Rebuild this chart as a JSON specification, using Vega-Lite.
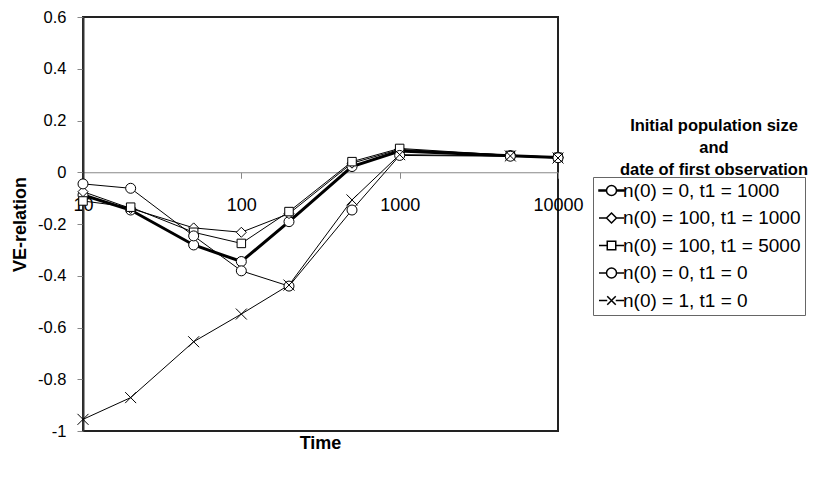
{
  "$schema": "https://vega.github.io/schema/vega-lite/v6.json",
  "width": 475,
  "height": 414,
  "padding": {"left": 11, "top": 9, "right": 0, "bottom": 0},
  "config": {
    "font": "Liberation Sans",
    "view": {"stroke": "#222", "strokeWidth": 2},
    "axis": {"grid": false, "labelColor": "black", "titleColor": "black"}
  },
  "title": {
    "text": "Time",
    "orient": "bottom",
    "anchor": "middle",
    "frame": "group",
    "fontSize": 18,
    "fontWeight": "bold",
    "color": "black",
    "offset": -5
  },
  "data": {
    "values": [
      {"t": 10, "v": -0.088, "s": "n(0) = 0, t1 = 1000"},
      {"t": 20, "v": -0.146, "s": "n(0) = 0, t1 = 1000"},
      {"t": 50, "v": -0.281, "s": "n(0) = 0, t1 = 1000"},
      {"t": 100, "v": -0.345, "s": "n(0) = 0, t1 = 1000"},
      {"t": 200, "v": -0.191, "s": "n(0) = 0, t1 = 1000"},
      {"t": 500, "v": 0.022, "s": "n(0) = 0, t1 = 1000"},
      {"t": 1000, "v": 0.082, "s": "n(0) = 0, t1 = 1000"},
      {"t": 5000, "v": 0.064, "s": "n(0) = 0, t1 = 1000"},
      {"t": 10000, "v": 0.057, "s": "n(0) = 0, t1 = 1000"},
      {"t": 10, "v": -0.075, "s": "n(0) = 100, t1 = 1000"},
      {"t": 20, "v": -0.14, "s": "n(0) = 100, t1 = 1000"},
      {"t": 50, "v": -0.215, "s": "n(0) = 100, t1 = 1000"},
      {"t": 100, "v": -0.232, "s": "n(0) = 100, t1 = 1000"},
      {"t": 200, "v": -0.16, "s": "n(0) = 100, t1 = 1000"},
      {"t": 500, "v": 0.035, "s": "n(0) = 100, t1 = 1000"},
      {"t": 1000, "v": 0.088, "s": "n(0) = 100, t1 = 1000"},
      {"t": 5000, "v": 0.066, "s": "n(0) = 100, t1 = 1000"},
      {"t": 10000, "v": 0.058, "s": "n(0) = 100, t1 = 1000"},
      {"t": 10, "v": -0.111, "s": "n(0) = 100, t1 = 5000"},
      {"t": 20, "v": -0.135, "s": "n(0) = 100, t1 = 5000"},
      {"t": 50, "v": -0.232, "s": "n(0) = 100, t1 = 5000"},
      {"t": 100, "v": -0.275, "s": "n(0) = 100, t1 = 5000"},
      {"t": 200, "v": -0.152, "s": "n(0) = 100, t1 = 5000"},
      {"t": 500, "v": 0.041, "s": "n(0) = 100, t1 = 5000"},
      {"t": 1000, "v": 0.092, "s": "n(0) = 100, t1 = 5000"},
      {"t": 5000, "v": 0.065, "s": "n(0) = 100, t1 = 5000"},
      {"t": 10000, "v": 0.058, "s": "n(0) = 100, t1 = 5000"},
      {"t": 10, "v": -0.045, "s": "n(0) = 0, t1 = 0"},
      {"t": 20, "v": -0.062, "s": "n(0) = 0, t1 = 0"},
      {"t": 50, "v": -0.246, "s": "n(0) = 0, t1 = 0"},
      {"t": 100, "v": -0.381, "s": "n(0) = 0, t1 = 0"},
      {"t": 200, "v": -0.44, "s": "n(0) = 0, t1 = 0"},
      {"t": 500, "v": -0.146, "s": "n(0) = 0, t1 = 0"},
      {"t": 1000, "v": 0.065, "s": "n(0) = 0, t1 = 0"},
      {"t": 5000, "v": 0.062, "s": "n(0) = 0, t1 = 0"},
      {"t": 10000, "v": 0.056, "s": "n(0) = 0, t1 = 0"},
      {"t": 10, "v": -0.955, "s": "n(0) = 1, t1 = 0"},
      {"t": 20, "v": -0.871, "s": "n(0) = 1, t1 = 0"},
      {"t": 50, "v": -0.655, "s": "n(0) = 1, t1 = 0"},
      {"t": 100, "v": -0.548, "s": "n(0) = 1, t1 = 0"},
      {"t": 200, "v": -0.436, "s": "n(0) = 1, t1 = 0"},
      {"t": 500, "v": -0.107, "s": "n(0) = 1, t1 = 0"},
      {"t": 1000, "v": 0.068, "s": "n(0) = 1, t1 = 0"},
      {"t": 5000, "v": 0.063, "s": "n(0) = 1, t1 = 0"},
      {"t": 10000, "v": 0.055, "s": "n(0) = 1, t1 = 0"}
    ]
  },
  "encoding": {
    "x": {
      "field": "t",
      "type": "quantitative",
      "scale": {"type": "log", "domain": [10, 10000]},
      "axis": {
        "title": null,
        "values": [10, 100, 1000, 10000],
        "format": "d",
        "offset": -258.75,
        "domainColor": "#888",
        "domainWidth": 1,
        "tickColor": "#888",
        "tickSize": 6,
        "labelFontSize": 18,
        "labelPadding": 18,
        "labelFlush": false,
        "labelOverlap": false
      }
    },
    "y": {
      "field": "v",
      "type": "quantitative",
      "scale": {"domain": [-1, 0.6], "nice": false, "zero": false},
      "axis": {
        "title": "VE-relation",
        "values": [-1, -0.8, -0.6, -0.4, -0.2, 0, 0.2, 0.4, 0.6],
        "format": ".1~f",
        "labelExpr": "replace(datum.label, '\u2212', '-')",
        "domainColor": "#333",
        "domainWidth": 2,
        "tickColor": "#888",
        "tickSize": 6,
        "labelFontSize": 16.5,
        "labelPadding": 11,
        "titleFontSize": 18,
        "titleFontWeight": "bold",
        "titlePadding": 8
      }
    }
  },
  "resolve": {
    "scale": {"shape": "independent"},
    "legend": {"shape": "independent"}
  },
  "layer": [
    {
      "mark": {"type": "line", "strokeJoin": "miter"},
      "encoding": {
        "detail": {"field": "s", "type": "nominal"},
        "strokeWidth": {
          "condition": {"test": "datum.s === 'n(0) = 0, t1 = 1000'", "value": 3},
          "value": 1
        },
        "color": {
          "datum": "series",
          "type": "nominal",
          "scale": {"range": ["black"]},
          "legend": {
            "title": ["Initial population size", "and", "date of first observation"],
            "orient": "none",
            "legendX": 537,
            "legendY": 100.5,
            "padding": 0,
            "titlePadding": 0,
            "titleLimit": 0,
            "titleFontSize": 16.5,
            "titleFontWeight": "bold",
            "titleColor": "black",
            "titleAlign": "center",
            "titleAnchor": "middle",
            "titleLineHeight": 22,
            "labelExpr": "''",
            "labelFontSize": 1,
            "symbolOpacity": 0,
            "symbolSize": 1
          }
        }
      }
    },
    {
      "mark": {"type": "point", "filled": true, "fill": "white", "stroke": "black", "strokeWidth": 1, "opacity": 1, "size": 100},
      "encoding": {
        "shape": {
          "field": "s",
          "type": "nominal",
          "scale": {
            "domain": ["n(0) = 1, t1 = 0", "n(0) = 0, t1 = 0", "n(0) = 100, t1 = 5000", "n(0) = 100, t1 = 1000", "n(0) = 0, t1 = 1000"],
            "range": [
              "M-1.1,-1.1L1.1,1.1M-1.1,1.1L1.1,-1.1",
              "M-1,0A1,1,0,1,0,1,0A1,1,0,1,0,-1,0Z",
              "M-0.85,-0.85H0.85V0.85H-0.85Z",
              "M0,-1L1,0L0,1L-1,0Z",
              "M-1,0A1,1,0,1,0,1,0A1,1,0,1,0,-1,0Z"
            ]
          },
          "legend": null
        }
      }
    },
    {
      "transform": [{"filter": "false"}],
      "mark": {"type": "point", "filled": true, "fill": "white", "stroke": "black", "strokeWidth": 1, "opacity": 1, "size": 100},
      "encoding": {
        "shape": {
          "field": "s",
          "type": "nominal",
          "scale": {
            "domain": ["n(0) = 0, t1 = 1000", "n(0) = 100, t1 = 1000", "n(0) = 100, t1 = 5000", "n(0) = 0, t1 = 0", "n(0) = 1, t1 = 0"],
            "range": [
              "M-2.5,-0.1H-1V0.1H-2.5Z M1,-0.1H2.5V0.1H1Z M-1,0A1,1,0,1,0,1,0A1,1,0,1,0,-1,0Z",
              "M-2.5,0H-1M1,0H2.5M0,-1L1,0L0,1L-1,0Z",
              "M-2.5,0H-0.85M0.85,0H2.5M-0.85,-0.85H0.85V0.85H-0.85Z",
              "M-2.5,0H-1M1,0H2.5M-1,0A1,1,0,1,0,1,0A1,1,0,1,0,-1,0Z",
              "M-2.5,0H-0.85M0.85,0H2.5M-0.85,-0.85L0.85,0.85M-0.85,0.85L0.85,-0.85"
            ]
          },
          "legend": {
            "title": null,
            "orient": "none",
            "legendX": 510,
            "legendY": 160,
            "padding": 4,
            "strokeColor": "#666",
            "labelFontSize": 19,
            "labelColor": "black",
            "labelLimit": 300,
            "labelOffset": 2,
            "rowPadding": 7.5,
            "symbolSize": 100,
            "symbolOffset": 5,
            "encode": {
              "symbols": {
                "opacity": {"value": 1},
                "fill": {"value": "white"},
                "stroke": {"value": "black"},
                "strokeWidth": {"value": 1}
              }
            }
          }
        }
      }
    }
  ]
}
